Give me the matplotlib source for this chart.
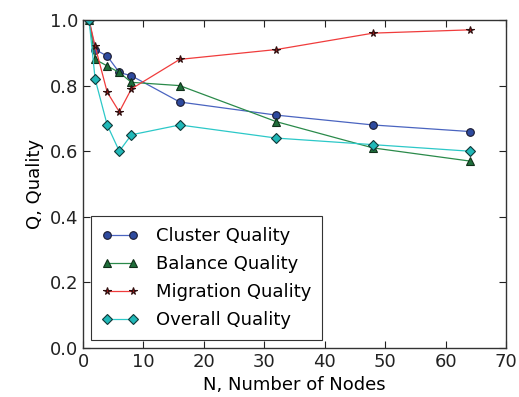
import numpy as np
import matplotlib
matplotlib.use('Agg')
import matplotlib.pyplot as plt

# number of nodes
nodes = [1, 2, 4, 6, 8, 16, 32, 48, 64]

cluster_q = [1.0, 0.91, 0.89, 0.84, 0.83, 0.75, 0.71, 0.68, 0.66]
balance_q = [1.0, 0.88, 0.86, 0.84, 0.81, 0.80, 0.69, 0.61, 0.57]
migration_q = [1.0, 0.92, 0.78, 0.72, 0.79, 0.88, 0.91, 0.96, 0.97]
overall_q = [1.0, 0.82, 0.68, 0.60, 0.65, 0.68, 0.64, 0.62, 0.60]

plt.rcParams['font.family'] = 'DejaVu Sans'
plt.rcParams['font.size'] = 13

fig = plt.figure(figsize=(5.19, 3.97), dpi=100)
ax = fig.add_axes([0.16, 0.1234, 0.815, 0.8262])

ax.plot(nodes, cluster_q, color='#4a64c0', marker='o', markerfacecolor='#2e4a9e',
        markeredgecolor='#1a1a30', markersize=5.5, mew=0.8, lw=0.9, label='Cluster Quality')
ax.plot(nodes, balance_q, color='#2a8a4a', marker='^', markerfacecolor='#1f6e3a',
        markeredgecolor='#10301a', markersize=6, mew=0.8, lw=0.9, label='Balance Quality')
ax.plot(nodes, migration_q, color='#f03c3c', marker='*', markerfacecolor='#a01818',
        markeredgecolor='#301010', markersize=5.5, mew=0.8, lw=0.9, label='Migration Quality')
ax.plot(nodes, overall_q, color='#2cc8c8', marker='D', markerfacecolor='#20b8b8',
        markeredgecolor='#103838', markersize=5, mew=0.8, lw=0.9, label='Overall Quality')

ax.set_xlim(0, 70)
ax.set_ylim(0, 1.0)
ax.set_xticks(np.arange(0, 71, 10))
ax.set_yticks(np.arange(0, 1.01, 0.2))
ax.tick_params(direction='in', top=True, right=True, length=5, width=0.8, colors='#222222')
for s in ax.spines.values():
    s.set_color('#333333')
    s.set_linewidth(1.0)

ax.set_xlabel('N, Number of Nodes')
ax.set_ylabel('Q, Quality')

leg = ax.legend(loc='lower left', fancybox=False, framealpha=1, edgecolor='#333333',
                borderaxespad=0.45, numpoints=2, handlelength=2.0, handletextpad=1.0,
                labelspacing=0.55, borderpad=0.6)
leg.get_frame().set_linewidth(0.8)

fig.savefig('out.png', dpi=100)
